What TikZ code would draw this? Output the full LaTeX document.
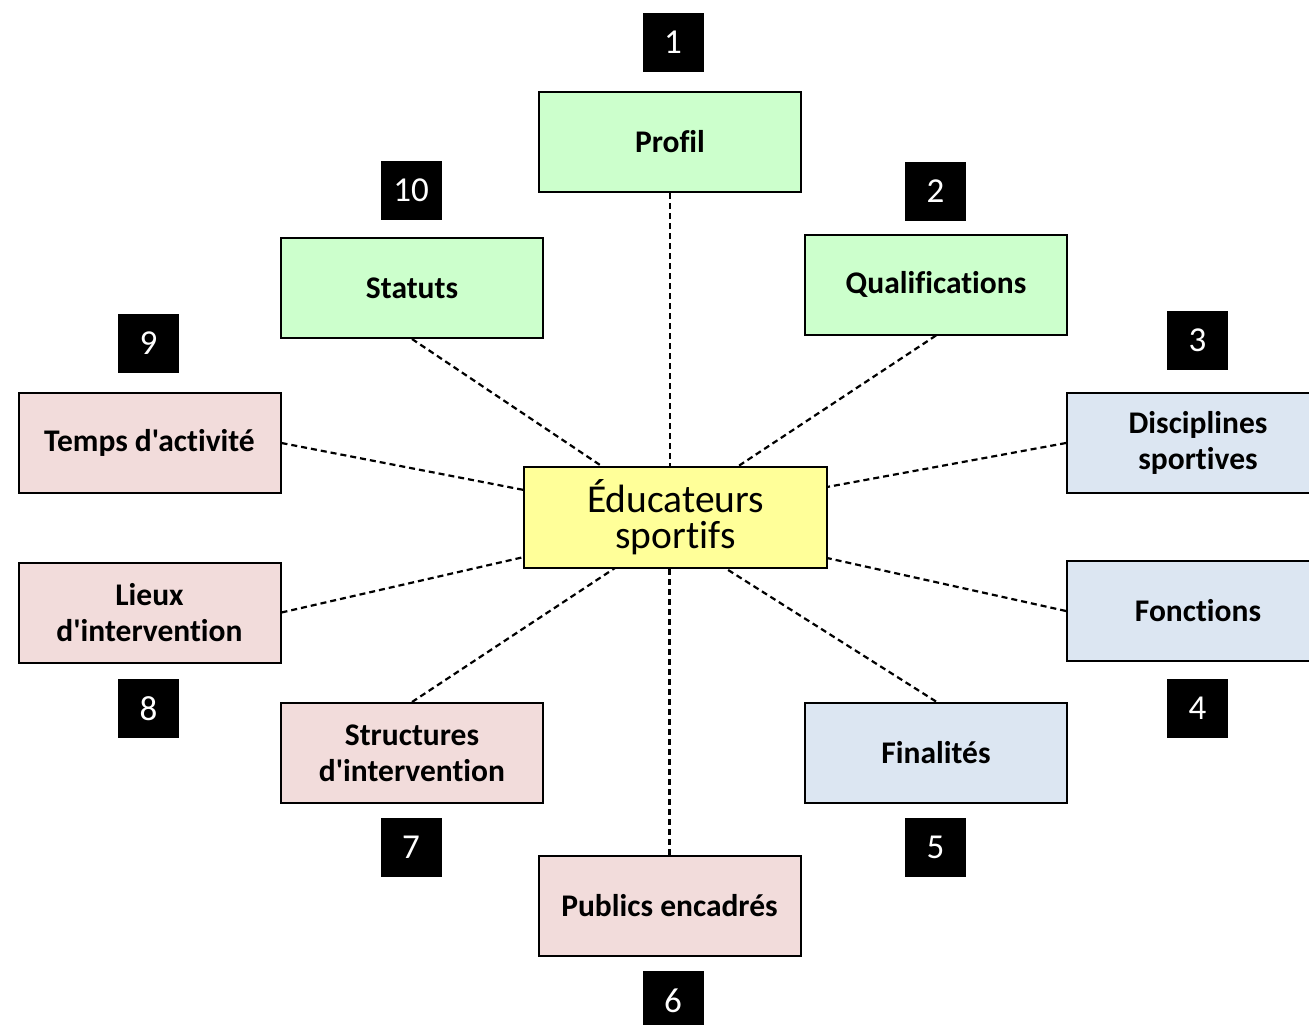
\documentclass[tikz,border=0pt]{standalone}
\usepackage{fontspec}
\setmainfont{Carlito}[Ligatures={TeXOff,NoCommon}]
\begin{document}
\begin{tikzpicture}[x=1pt,y=-1pt,
  lbl/.style={draw=black,line width=2pt,minimum width=262pt,minimum height=100pt,inner sep=0pt,align=center,font=\fontsize{31.5}{36}\selectfont\bfseries},
  grn/.style={lbl,fill=grnc},
  pnk/.style={lbl,fill=pnkc},
  blu/.style={lbl,fill=bluc},
  num/.style={fill=black,text=white,minimum width=61pt,minimum height=59pt,inner sep=0pt,font=\fontsize{35}{40}\selectfont},
  hub/.style={draw=black,line width=2pt,fill=hubc,minimum width=303pt,minimum height=101pt,inner sep=0pt,align=center,font=\fontsize{39.5}{36}\selectfont},
  con/.style={draw=black,line width=2.2pt,dash pattern=on 6pt off 4pt}]
\definecolor{grnc}{HTML}{CCFFCC}
\definecolor{pnkc}{HTML}{F2DCDB}
\definecolor{bluc}{HTML}{DCE6F2}
\definecolor{hubc}{HTML}{FFFF99}
\useasboundingbox (0,0) rectangle (1309,1025);
\begin{scope}
\clip (0,0) rectangle (1309,1025);
\node[grn] (p1) at (670,142) {Profil};
\node[grn] (p2) at (936,284.5) {Qualifications};
\node[blu] (p3) at (1198,443) {Disciplines\\sportives};
\node[blu] (p4) at (1198,611) {Fonctions};
\node[blu] (p5) at (936,752.5) {Finalités};
\node[pnk] (p6) at (669.5,905.5) {Publics encadrés};
\node[pnk] (p7) at (412,753) {Structures\\d'intervention};
\node[pnk] (p8) at (149.5,612.5) {Lieux\\d'intervention};
\node[pnk] (p9) at (149.5,443) {Temps d'activité};
\node[grn] (p10) at (412,288) {Statuts};
\node[num] (n1) at (673,42.5) {1};
\node[num] (n2) at (935.5,191) {2};
\node[num] (n3) at (1197.5,340.5) {3};
\node[num] (n4) at (1197.5,708.5) {4};
\node[num] (n5) at (935.5,847) {5};
\node[num] (n6) at (673,1000.5) {6};
\node[num] (n7) at (411,847) {7};
\node[num] (n8) at (148.5,708.5) {8};
\node[num] (n9) at (148.5,343.5) {9};
\node[num] (n10) at (411,190.5) {10};
\coordinate (h2) at (737,467);
\coordinate (h3) at (827,487);
\coordinate (h4) at (827,558);
\coordinate (h5) at (725,568);
\coordinate (h7) at (615,568);
\coordinate (h8) at (524,557);
\coordinate (h9) at (524,490);
\coordinate (h10) at (603,467);
\draw[con] (p1.south) -- (p1.south |- h2);
\draw[con] (p2.south) -- (h2);
\draw[con] (p3.west) -- (h3);
\draw[con] (p4.west) -- (h4);
\draw[con] (p5.north) -- (h5);
\draw[con] (p6.north) -- (p6.north |- h5);
\draw[con] (p7.north) -- (h7);
\draw[con] (p8.east) -- (h8);
\draw[con] (p9.east) -- (h9);
\draw[con] (p10.south) -- (h10);
\node[hub] (c) at (675.5,517.5) {Éducateurs\\sportifs};
\end{scope}
\end{tikzpicture}
\end{document}
